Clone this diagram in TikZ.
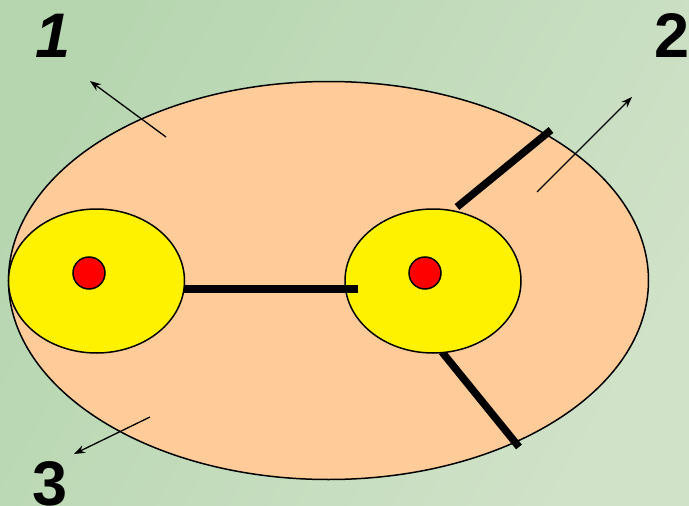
\documentclass[tikz,border=0pt]{standalone}
\usepackage{fontspec}
\setmainfont{Liberation Sans}
\usetikzlibrary{arrows.meta,shapes.geometric}
\definecolor{bgL}{RGB}{182,214,176}
\definecolor{bgR}{RGB}{208,226,200}
\definecolor{peach}{RGB}{255,204,153}
\tikzset{
  outline/.style={draw=black, line width=1.5pt},
  bond/.style={line width=7.5pt, line cap=butt},
  ptr/.style={-{Stealth[length=11pt,width=8pt]}, line width=1.3pt},
  atom/.style={outline, fill=yellow, ellipse, minimum width=176, minimum height=144, inner sep=0pt},
  nucleus/.style={outline, fill=red, circle, minimum size=32, inner sep=0pt},
  numlabel/.style={font=\fontsize{63}{63}\selectfont\bfseries, inner sep=0pt}
}
\begin{document}
\begin{tikzpicture}[x=1pt,y=-1pt]
\useasboundingbox (0,0) rectangle (689,506);
\shade[left color=bgL, right color=bgR, shading angle=60] (0,0) rectangle (689,506);
% big ellipse
\node[outline, fill=peach, ellipse, minimum width=640, minimum height=398, inner sep=0pt] (mol) at (328.5,280.5) {};
% bonds
\coordinate (b1s) at (184,289);
\coordinate (b1e) at (358,289);
\coordinate (b2s) at (457,207);
\coordinate (b2e) at (551,130);
\coordinate (b3s) at (442,352);
\coordinate (b3e) at (519,447);
\draw[bond] (b2s) -- (b2e);
\draw[bond] (b3s) -- (b3e);
% yellow ellipses
\node[atom] (yl) at (96.5,281) {};
\node[atom] (yr) at (433,281) {};
\draw[bond] (b1s) -- (b1e);
% red dots
\node[nucleus] (rl) at (89,273) {};
\node[nucleus] (rr) at (425,273) {};
% arrows
\coordinate (a1s) at (166,137);
\coordinate (a1e) at (90,81);
\coordinate (a2s) at (537,192);
\coordinate (a2e) at (632,97);
\coordinate (a3s) at (150,417);
\coordinate (a3e) at (74,454);
\draw[ptr] (a1s) -- (a1e);
\draw[ptr] (a2s) -- (a2e);
\draw[ptr] (a3s) -- (a3e);
% labels
\node[numlabel, anchor=base] (l1) at (53,57) {\itshape 1};
\node[numlabel, anchor=base] (l2) at (672,57) {2};
\node[numlabel, anchor=base] (l3) at (50,505) {3};
\end{tikzpicture}
\end{document}
